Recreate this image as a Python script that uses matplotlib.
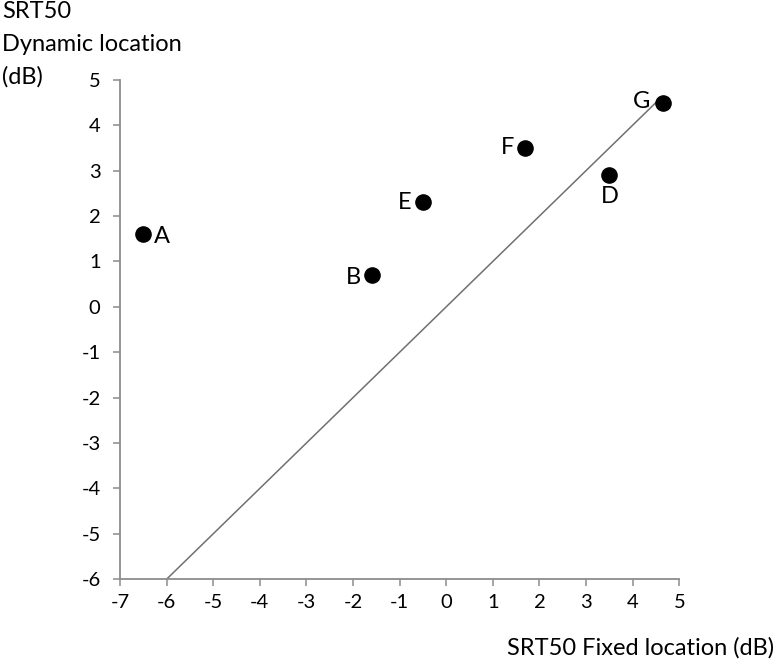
import matplotlib
matplotlib.use("Agg")
import matplotlib.pyplot as plt

# data
labels = ["A", "B", "D", "E", "F", "G"]
fixed_db = [-6.5, -1.6, 3.5, -0.5, 1.7, 4.65]
dynamic_db = [1.6, 0.7, 2.9, 2.3, 3.5, 4.5]
identity = [-6, 4.55]
x_ticks = list(range(-7, 6))
y_ticks = list(range(-6, 6))
y_title = ["SRT50", "Dynamic location", "(dB)"]

# label offsets (points) and alignment per point
label_pos = {
    "A": ((8, -2), "left", "center"),
    "B": ((-8, -2), "right", "center"),
    "D": ((0, -8), "center", "top"),
    "E": ((-8, 0), "right", "center"),
    "F": ((-8, 0), "right", "center"),
    "G": ((-9, 1), "right", "center"),
}

plt.rcParams["font.family"] = ["Lato", "DejaVu Sans"]
plt.rcParams["axes.unicode_minus"] = False
grey = "#8c8c8c"

fig = plt.figure(figsize=(7.79, 6.65), dpi=100)
ax = fig.add_axes([0.154, 0.129, 0.718, 0.751])

ax.plot(identity, identity, "-", color="#707070", lw=1.1)
ax.scatter(fixed_db, dynamic_db, s=120, color="black", zorder=5)
for lab, x, y in zip(labels, fixed_db, dynamic_db):
    off, ha, va = label_pos[lab]
    ax.annotate(lab, (x, y), xytext=off, textcoords="offset points",
                ha=ha, va=va, fontsize=17)

ax.set_xlim(-7, 5)
ax.set_ylim(-6, 5)
ax.set_xticks(x_ticks)
ax.set_yticks(y_ticks)
for s in ("top", "right"):
    ax.spines[s].set_visible(False)
for s in ("left", "bottom"):
    ax.spines[s].set_color(grey)
    ax.spines[s].set_linewidth(1.3)
ax.tick_params(direction="out", length=5, width=1.1, color=grey,
               labelsize=14.5, pad=6)
ax.tick_params(axis="y", pad=9)

# y title as three stacked lines in the top-left corner
for i, line in enumerate(y_title):
    fig.text(0.003, 0.998 - i * 0.0485, line, ha="left", va="top", fontsize=17)
fig.text(0.994, 0.026, "SRT50 Fixed location (dB)", ha="right", va="center",
         fontsize=17)

fig.savefig("out.png", dpi=100)
